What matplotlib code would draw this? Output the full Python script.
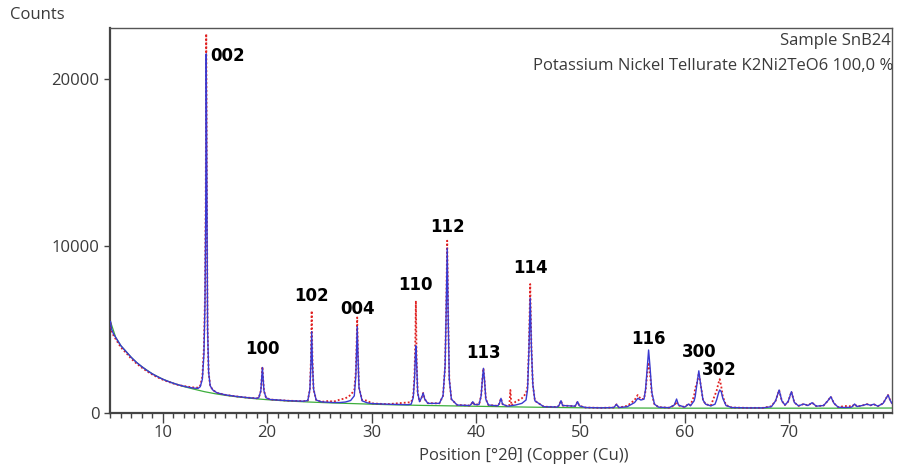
import matplotlib.pyplot as plt
from matplotlib.ticker import MultipleLocator, FixedLocator

# Diffraction pattern, Cu K-alpha, counts vs 2-theta (deg)
two_theta = [
    5.0, 5.1, 5.3, 5.5, 6.0, 6.5, 7.0, 7.5, 8.0, 8.5, 9.0, 9.5, 10.0, 10.5,
    11.0, 11.5, 12.0, 12.5, 13.0, 13.4, 13.6, 13.8, 13.95, 14.05, 14.12, 14.17,
    14.24, 14.3, 14.4, 14.55, 14.8, 15.2, 16.0, 17.0, 18.0, 19.0, 19.2, 19.4,
    19.48, 19.55, 19.62, 19.7, 19.9, 20.3, 22.0, 23.5, 23.9, 24.1, 24.2, 24.27,
    24.34, 24.45, 24.7, 25.2, 26.0, 26.3, 27.0, 27.5, 28.0, 28.35, 28.5, 28.58,
    28.63, 28.7, 28.8, 29.1, 29.6, 30.0, 31.5, 33.5, 33.8, 34.0, 34.12, 34.2,
    34.25, 34.32, 34.42, 34.6, 34.8, 34.95, 35.1, 35.4, 36.5, 36.85, 37.05, 37.15,
    37.25, 37.35, 37.45, 37.65, 38.2, 39.4, 39.55, 39.7, 39.85, 40.3, 40.5, 40.62,
    40.72, 40.83, 40.95, 41.2, 42.1, 42.25, 42.4, 42.55, 43.0, 43.2, 43.3, 43.4,
    43.8, 44.4, 44.8, 44.95, 45.08, 45.2, 45.32, 45.45, 45.65, 46.5, 47.8, 47.95,
    48.15, 48.3, 49.5, 49.74, 49.9, 50.5, 52.0, 53.2, 53.47, 53.7, 54.5, 55.2,
    55.5, 55.8, 56.1, 56.25, 56.42, 56.54, 56.68, 56.85, 57.1, 57.5, 58.5, 59.0,
    59.22, 59.4, 60.0, 60.36, 60.55, 60.9, 61.0, 61.15, 61.35, 61.52, 61.75, 62.0,
    62.5, 62.9, 63.05, 63.25, 63.35, 63.5, 63.65, 63.95, 64.5, 66.0, 67.5, 68.3,
    68.7, 69.04, 69.3, 69.6, 69.9, 70.22, 70.5, 70.9, 71.4, 71.8, 72.2, 72.6,
    73.3, 73.7, 73.99, 74.3, 74.7, 75.3, 75.8, 76.0, 76.27, 76.5, 77.0, 77.46,
    77.8, 78.1, 78.5, 79.0, 79.47, 79.7, 79.85,
]
calc_counts = [
    5450, 5000, 4700, 4500, 4000, 3650, 3300, 3000, 2750, 2520, 2320, 2150, 2000, 1870,
    1760, 1660, 1580, 1510, 1460, 1450, 1550, 2000, 3500, 6500, 12000, 21500,
    12000, 5000, 2400, 1600, 1350, 1180, 1060, 970, 900, 850, 880, 1300,
    2000, 2700, 2000, 1300, 880, 780, 710, 680, 720, 1400, 3000, 4850,
    3000, 1400, 750, 640, 610, 600, 600, 630, 720, 1000, 2200, 4000,
    5150, 3500, 1500, 700, 580, 540, 500, 470, 500, 900, 2000, 3400,
    4000, 3000, 1200, 650, 900, 1170, 800, 550, 550, 1000, 2800, 6000,
    9850, 5500, 2000, 800, 450, 420, 500, 650, 480, 480, 1000, 2000,
    2650, 1900, 800, 450, 400, 550, 850, 500, 380, 390, 400, 410,
    450, 550, 750, 1400, 3800, 6860, 3800, 1700, 700, 350, 330, 420,
    710, 420, 380, 650, 400, 300, 280, 300, 490, 300, 350, 600,
    850, 750, 800, 1400, 2800, 3750, 2700, 1200, 500, 320, 290, 450,
    810, 450, 320, 510, 400, 700, 950, 1600, 2500, 1700, 750, 500,
    400, 500, 750, 1200, 1350, 1250, 850, 420, 300, 280, 280, 350,
    700, 1350, 700, 450, 650, 1250, 600, 400, 510, 420, 590, 380,
    420, 700, 950, 550, 320, 300, 310, 330, 510, 360, 420, 500,
    430, 500, 380, 550, 1050, 700, 550,
]
obs_counts = [
    5380, 4900, 4600, 4400, 3900, 3570, 3220, 2930, 2690, 2470, 2280, 2110, 1970, 1850,
    1740, 1650, 1590, 1540, 1500, 1490, 1620, 2150, 3900, 7000, 12500, 22700,
    12000, 5000, 2400, 1600, 1350, 1180, 1060, 970, 900, 850, 880, 1300,
    2000, 2750, 2000, 1300, 880, 780, 710, 680, 720, 1400, 3200, 6100,
    3200, 1400, 750, 640, 700, 640, 780, 850, 1050, 1350, 2500, 4300,
    5700, 3600, 1500, 750, 710, 550, 500, 600, 620, 1000, 2300, 4500,
    6700, 3200, 1200, 650, 900, 1170, 800, 560, 550, 1000, 2800, 6200,
    10300, 5600, 2000, 800, 450, 420, 500, 650, 480, 480, 1000, 2000,
    2650, 1900, 800, 450, 400, 550, 850, 500, 380, 420, 1350, 420,
    650, 850, 1150, 1600, 4000, 7700, 3800, 1700, 700, 350, 330, 420,
    710, 420, 380, 650, 400, 300, 280, 300, 490, 300, 400, 750,
    1050, 800, 820, 1300, 2400, 3000, 2300, 1100, 500, 320, 290, 420,
    650, 420, 330, 520, 450, 1000, 1470, 1700, 2350, 1700, 750, 500,
    420, 1050, 1300, 1800, 2000, 1550, 950, 450, 300, 280, 280, 380,
    700, 1350, 700, 450, 650, 1250, 600, 400, 510, 420, 590, 380,
    420, 700, 950, 550, 320, 390, 380, 350, 510, 360, 420, 500,
    430, 500, 380, 550, 1050, 700, 550,
]

bkg_two_theta = [5, 5.5, 6, 6.5, 7, 7.5, 8, 9, 10, 11, 12, 13, 14, 15, 16, 17, 18,
                 19, 20, 22, 24, 26, 28, 30, 32, 35, 38, 40, 45, 50, 55, 60, 65,
                 70, 75, 80]
bkg_counts = [5450, 4500, 4000, 3650, 3300, 3000, 2750, 2320, 2000, 1760, 1560,
              1400, 1250, 1130, 1030, 950, 880, 820, 770, 690, 630, 580, 540,
              500, 465, 425, 395, 375, 325, 285, 270, 260, 260, 260, 260, 270]

# Miller indices of the indexed reflections, and where their tags sit
hkl_labels = ["002", "100", "102", "004", "110", "112", "113", "114", "116", "300", "302"]
hkl_two_theta = [14.17, 19.55, 24.27, 28.63, 34.25, 37.25, 40.72, 45.2, 56.54, 61.35, 63.35]
label_y = [21400, 3800, 7000, 6200, 7650, 11150, 3570, 8680, 4380, 3630, 2520]

TEXT = "#3a3a3a"
plt.rcParams["font.family"] = ["Open Sans", "DejaVu Sans"]

fig = plt.figure(figsize=(8.97, 4.72), dpi=100)
ax = fig.add_axes([0.1226, 0.126, 0.8718, 0.8147])

ax.plot(bkg_two_theta, bkg_counts, color="#3cae3c", lw=0.9, zorder=2)
ax.plot(two_theta, obs_counts, color="#e02020", lw=1.3, ls=(0, (1, 1.2)), zorder=3)
ax.plot(two_theta, calc_counts, color="#3a3ad0", lw=1.0, zorder=4)

for lab, x, y in zip(hkl_labels, hkl_two_theta, label_y):
    if lab == "002":
        ax.text(x + 0.4, y, lab, ha="left", va="center", fontsize=12,
                fontweight="bold", family="DejaVu Sans", color="black")
    else:
        ax.text(x, y, lab, ha="center", va="center", fontsize=12,
                fontweight="bold", family="DejaVu Sans", color="black")

ax.text(0.999, 0.966, "Sample SnB24", transform=ax.transAxes, ha="right",
        va="center", fontsize=12, color=TEXT)
ax.text(1.002, 0.901, "Potassium Nickel Tellurate K2Ni2TeO6 100,0 %",
        transform=ax.transAxes, ha="right", va="center", fontsize=12, color=TEXT)

ax.set_xlim(4.95, 79.85)
ax.set_ylim(0, 23050)
ax.xaxis.set_major_locator(FixedLocator([10, 20, 30, 40, 50, 60, 70]))
ax.xaxis.set_minor_locator(MultipleLocator(1))
ax.yaxis.set_major_locator(FixedLocator([0, 10000, 20000]))
ax.tick_params(axis="x", which="major", length=7, width=1, color="#444444",
               labelsize=12, labelcolor=TEXT, pad=2)
ax.tick_params(axis="x", which="minor", length=3.5, width=1, color="#444444")
ax.tick_params(axis="y", which="major", length=4.5, width=1, color="#444444",
               labelsize=12, labelcolor=TEXT, pad=3)

for side in ("left", "bottom"):
    ax.spines[side].set_linewidth(1.6)
    ax.spines[side].set_color("#444444")
for side in ("top", "right"):
    ax.spines[side].set_linewidth(1.0)
    ax.spines[side].set_color("#555555")

ax.set_xlabel("Position [°2θ] (Copper (Cu))", fontsize=12, color=TEXT, labelpad=2)
ax.xaxis.set_label_coords(0.529, -0.09)
fig.text(0.011, 0.968, "Counts", ha="left", va="center", fontsize=12, color=TEXT)

fig.savefig("out.png", dpi=100)
plt.close(fig)
